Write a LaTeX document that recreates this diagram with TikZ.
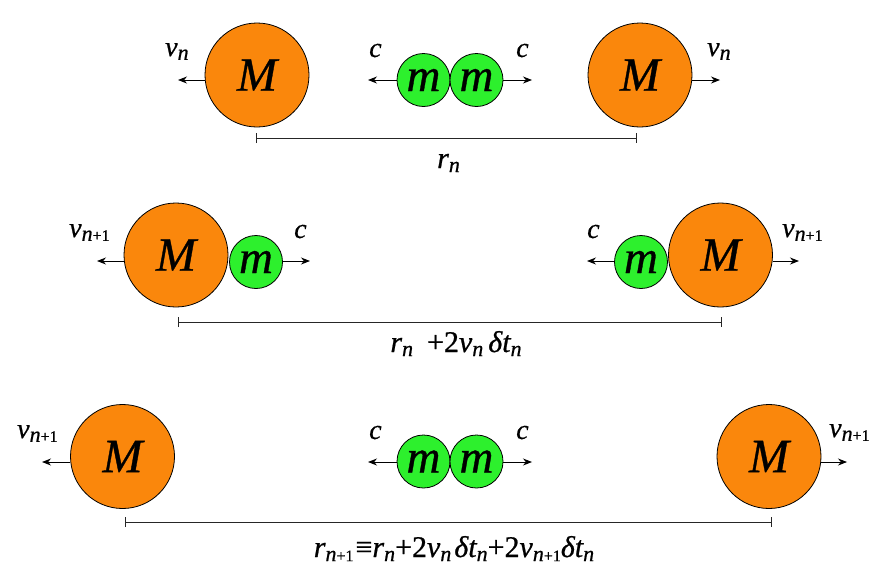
\documentclass[tikz,border=0pt]{standalone}
\usepackage{fontspec}
\setmainfont{Liberation Serif}
\newfontfamily\hv{Liberation Serif}[FakeBold=0.7]
\usetikzlibrary{arrows.meta}
\definecolor{morange}{RGB}{250,135,12}
\definecolor{mgreen}{RGB}{45,240,45}
\newcommand\lbl{\hv\fontsize{28}{32}\selectfont\itshape}
\newcommand\dlbl{\hv\fontsize{30}{34}\selectfont\itshape}
\newcommand\sbs[1]{\raisebox{-0.3ex}{\fontsize{22}{24}\selectfont #1}}
\newcommand\sbone{\raisebox{-0.3ex}{\fontsize{22}{24}\selectfont\itshape n\fontsize{16}{18}\selectfont\upshape +1}}
\begin{document}
\begin{tikzpicture}[x=1pt,y=-1pt,
  bigM/.style={circle,draw=black,line width=0.8pt,fill=morange,minimum size=104pt,inner sep=0pt,font=\hv\fontsize{48}{52}\selectfont\itshape},
  smallm/.style={circle,draw=black,line width=0.8pt,fill=mgreen,minimum size=53pt,inner sep=0pt,font=\hv\fontsize{47}{50}\selectfont\itshape},
  arr/.style={-{Stealth[length=9pt,width=7pt]},line width=0.9pt},
  dimline/.style={{Bar[width=10pt]}-{Bar[width=10pt]},line width=0.8pt,draw=black!85},
  lab/.style={inner sep=0pt,font=\lbl},
  dlab/.style={inner sep=0pt,font=\dlbl}]
\useasboundingbox (0,0) rectangle (894,582);
% ---------- row 1 ----------
\node[bigM] (M1) at (257,75) {M};
\node[bigM] (M2) at (640,75) {M};
\node[smallm] (m1) at (423.5,80) {m};
\node[smallm] (m2) at (476.5,80) {m};
\coordinate (a1) at (178,80);
\coordinate (a2) at (720,80);
\coordinate (a3) at (368,80);
\coordinate (a4) at (532,80);
\draw[arr] (M1.west |- a1) -- (a1);
\draw[arr] (M2.east |- a2) -- (a2);
\draw[arr] (m1.west) -- (a3);
\draw[arr] (m2.east) -- (a4);
\node[lab,anchor=base west] (l1) at (165,56) {v\sbs{n}};
\node[lab,anchor=base west] (l2) at (369,57) {c};
\node[lab,anchor=base west] (l3) at (516,57) {c};
\node[lab,anchor=base west] (l4) at (707,56) {v\sbs{n}};
\coordinate (b1) at (256,138);
\coordinate (b2) at (637,138);
\draw[dimline] (b1) -- (b2);
\node[dlab,anchor=base west] (r1) at (437,168) {r\sbs{n}};
% ---------- row 2 ----------
\node[bigM] (M3) at (176,255) {M};
\node[smallm] (m3) at (256,262) {m};
\node[smallm] (m4) at (641,262) {m};
\node[bigM] (M4) at (720.5,255) {M};
\coordinate (a5) at (97,261);
\coordinate (a6) at (310,261);
\coordinate (a7) at (587,261);
\coordinate (a8) at (799,261);
\draw[arr] (M3.west |- a5) -- (a5);
\draw[arr] (m3.east |- a6) -- (a6);
\draw[arr] (m4.west |- a7) -- (a7);
\draw[arr] (M4.east |- a8) -- (a8);
\node[lab,anchor=base west] (l5) at (69,237) {v\sbone};
\node[lab,anchor=base west] (l6) at (294,238) {c};
\node[lab,anchor=base west] (l7) at (587,238) {c};
\node[lab,anchor=base west] (l8) at (782,237) {v\sbone};
\coordinate (b3) at (178,322);
\coordinate (b4) at (722,322);
\draw[dimline] (b3) -- (b4);
\node[dlab,anchor=base] (r2) at (456,352) {r\sbs{n}\kern14pt{\upshape +2}v\sbs{n}\kern5pt δt\sbs{n}};
% ---------- row 3 ----------
\node[bigM] (M5) at (122.5,456.5) {M};
\node[smallm] (m5) at (423.5,461.5) {m};
\node[smallm] (m6) at (476.5,461.5) {m};
\node[bigM] (M6) at (769,456.5) {M};
\coordinate (a9) at (42,462);
\coordinate (a10) at (368,462);
\coordinate (a11) at (532,462);
\coordinate (a12) at (847,462);
\draw[arr] (M5.west |- a9) -- (a9);
\draw[arr] (m5.west |- a10) -- (a10);
\draw[arr] (m6.east |- a11) -- (a11);
\draw[arr] (M6.east |- a12) -- (a12);
\node[lab,anchor=base west] (l9) at (17,438) {v\sbone};
\node[lab,anchor=base west] (l10) at (369,439) {c};
\node[lab,anchor=base west] (l11) at (516,439) {c};
\node[lab,anchor=base west] (l12) at (829,437) {v\sbone};
\coordinate (b5) at (125,522);
\coordinate (b6) at (772,522);
\draw[dimline] (b5) -- (b6);
\node[dlab,anchor=base] (r3) at (454,557) {r\sbone\kern2pt{\upshape ≡}r\sbs{n}{\upshape +2}v\sbs{n}\kern3pt δt\sbs{n}{\upshape +2}v\sbone δt\sbs{n}};
\end{tikzpicture}
\end{document}
